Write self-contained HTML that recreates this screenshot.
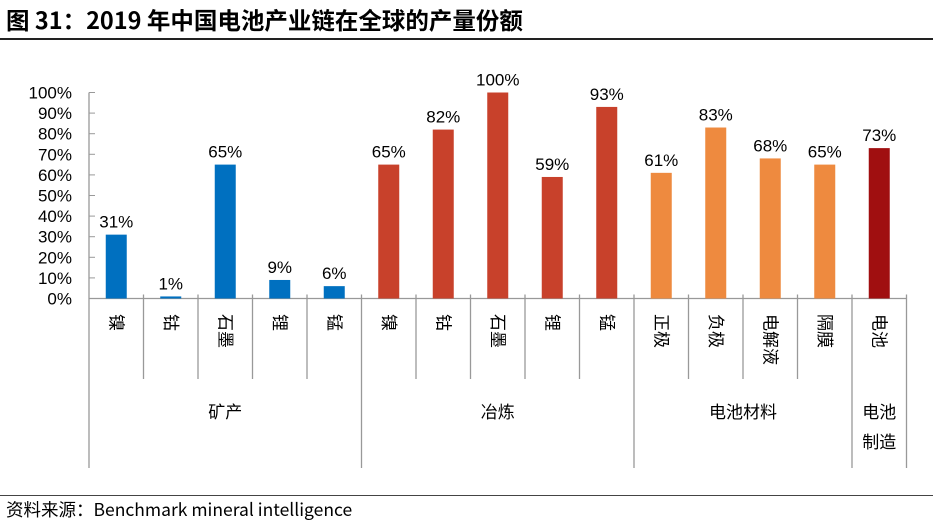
<!DOCTYPE html>
<html><head><meta charset="utf-8"><style>
body{margin:0;background:#fff;width:933px;height:528px;overflow:hidden;font-family:"Liberation Sans","Noto Sans CJK SC",sans-serif}
</style></head><body>
<div style="position:absolute;left:6px;top:2px;font-size:23.5px;font-weight:bold;color:#000;font-family:'Noto Sans CJK SC',sans-serif;white-space:nowrap">图 31：2019 年中国电池产业链在全球的产量份额</div>
<div style="position:absolute;left:0;top:38px;width:933px;height:2px;background:#222"></div>
<svg id="chart" width="933" height="528" style="position:absolute;left:0;top:0"></svg>
<div style="position:absolute;left:0;top:495px;width:933px;height:1px;background:#444"></div>
<div style="position:absolute;left:6px;top:497px;font-size:17.5px;color:#000;font-family:'Noto Sans CJK SC',sans-serif;white-space:nowrap">资料来源：Benchmark mineral intelligence</div>
<script>
const categories=["镍","钴","石墨","锂","锰","镍","钴","石墨","锂","锰","正极","负极","电解液","隔膜","电池"];
const values=[31,1,65,9,6,65,82,100,59,93,61,83,68,65,73];
const groups=["矿产","冶炼","电池材料","电池制造"];
const groupIdx=[0,0,0,0,0,1,1,1,1,1,2,2,2,2,3];
const groupColors=["#0070C0","#C8412B","#EE8A3F","#A00F10"];
const ticks=[0,10,20,30,40,50,60,70,80,90,100];
const svg=document.getElementById('chart');
const NS="http://www.w3.org/2000/svg";
const x0=89,step=54.5,y0=298.5,yTop=92.5,bw=21;
const y=v=>y0-(v/100)*(y0-yTop);
const cx=i=>x0+step*(i+0.5);
function mk(t,a,txt){const e=document.createElementNS(NS,t);for(const k in a)e.setAttribute(k,a[k]);if(txt!==undefined)e.textContent=txt;svg.appendChild(e);return e;}
const axis=mk('line',{x1:x0,y1:yTop,x2:x0,y2:468,stroke:'#999','stroke-width':1.3});


const base=mk('line',{x1:x0,y1:y0,x2:x0+step*15,y2:y0,stroke:'#999','stroke-width':1.3});


ticks.forEach(t=>{
 const l=mk('line',{x1:x0,y1:y(t),x2:x0+6,y2:y(t),stroke:'#999','stroke-width':1});
 
 
 const tx=mk('text',{x:72,y:y(t)+6,'text-anchor':'end','font-size':17,fill:'#000'},t+'%');
 
 
});
for(let i=1;i<=15;i++){
 const gb=(i<15&&groupIdx[i]!==groupIdx[i-1])||i===15;
 const l=mk('line',{x1:x0+step*i,y1:y0-4,x2:x0+step*i,y2:gb?468:379,stroke:'#999','stroke-width':1.3});
 
 
}
values.forEach((v,i)=>{
 const r=mk('rect',{x:cx(i)-bw/2,y:y(v),width:bw,height:y0-y(v),fill:groupColors[groupIdx[i]]});
 
 
 const t=mk('text',{x:cx(i),y:y(v)-7,'text-anchor':'middle','font-size':17,fill:'#000'},v+'%');
 
 
 const c=mk('text',{x:0,y:0,'font-size':17,fill:'#000',transform:`translate(${cx(i)-6},314) rotate(90)`,'font-family':'Noto Sans CJK SC, sans-serif'},categories[i]);
 
 
});
groups.forEach((g,gi)=>{
 const idx=groupIdx.map((v,i)=>v===gi?i:-1).filter(i=>i>=0);
 const mid=(cx(idx[0])+cx(idx[idx.length-1]))/2;
 const single=idx.length===1;
 const t=mk('text',{x:mid,y:418,'text-anchor':'middle','font-size':17,fill:'#000','font-family':'Noto Sans CJK SC, sans-serif'},single?g.slice(0,2):g);
 
 
 if(single){
  const t2=mk('text',{x:mid,y:448,'text-anchor':'middle','font-size':17,fill:'#000','font-family':'Noto Sans CJK SC, sans-serif'},g.slice(2));
  
  
 }
});
</script>
</body></html>
